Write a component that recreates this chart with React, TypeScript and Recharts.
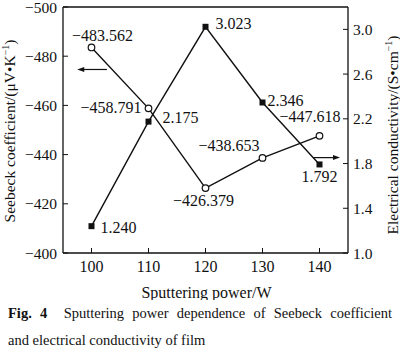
import React from "react";
import { LineChart, Line, XAxis, YAxis, ReferenceLine, Label } from "recharts";

const powers = [100, 110, 120, 130, 140];
const seebeck = [-483.562, -458.791, -426.379, -438.653, -447.618];
const conductivity = [1.24, 2.175, 3.023, 2.346, 1.792];
const powerTicks = [100, 110, 120, 130, 140];
const seebeckTicks = [-500, -480, -460, -440, -420, -400];
const conductivityTicks = [1.0, 1.4, 1.8, 2.2, 2.6, 3.0];

const data = powers.map((p, i) => ({ power: p, seebeck: seebeck[i], cond: conductivity[i] }));

// label placement (layout, not data)
const seebeckLabelLayout = [
  { dx: 11, dy: -12, anchor: "middle" },
  { dx: -7, dy: -1, anchor: "end" },
  { dx: -2, dy: 12, anchor: "middle" },
  { dx: -3, dy: -12, anchor: "end" },
  { dx: 21, dy: -19, anchor: "end" },
];
const condLabelLayout = [
  { dx: 9, dy: 1, anchor: "start" },
  { dx: 14, dy: -4, anchor: "start" },
  { dx: 10, dy: -3, anchor: "start" },
  { dx: 5, dy: -2, anchor: "start" },
  { dx: 0, dy: 12, anchor: "middle" },
];

const FONT = "Liberation Serif, serif";
const INK = "#111";

const fmtMinus = (v: number, d: number) => {
  const s = Math.abs(v).toFixed(d);
  return v < 0 ? "\u2212" + s : s;
};

const makeLabel = (layout: any[]) => (props: any) => {
  const { x, y, index, value } = props;
  const l = layout[index];
  if (!l) return null;
  return (
    <text
      x={x + l.dx}
      y={y + l.dy}
      textAnchor={l.anchor}
      dominantBaseline="central"
      style={{ fontFamily: FONT }}
      fontSize={16}
      fill={INK}
    >
      {fmtMinus(value, 3)}
    </text>
  );
};

const SquareDot = (p: any) => (
  <rect key={"sq" + p.index} x={p.cx - 3} y={p.cy - 3} width={6} height={6} fill={INK} />
);
const CircleDot = (p: any) => (
  <circle key={"ci" + p.index} cx={p.cx} cy={p.cy} r={3.3} fill="#fff" stroke={INK} strokeWidth={1.2} />
);

const arrowShape = (dir: "left" | "right") => (p: any) => {
  const { x1, y1, x2, y2 } = p;
  const tipX = dir === "left" ? Math.min(x1, x2) : Math.max(x1, x2);
  const tailX = dir === "left" ? Math.max(x1, x2) : Math.min(x1, x2);
  const s = dir === "left" ? 1 : -1;
  return (
    <g>
      <line x1={tailX} y1={y1} x2={tipX + s * 4} y2={y2} stroke={INK} strokeWidth={1.2} />
      <polygon
        points={`${tipX},${y1} ${tipX + s * 7},${y1 - 2.5} ${tipX + s * 7},${y1 + 2.5}`}
        fill={INK}
      />
    </g>
  );
};

const leftArrow = { y: -474.6, from: 102.7, to: 97.5 };
const rightArrow = { y: 1.853, from: 138.9, to: 143.6 };

const XTitle = (props: any) => {
  const vb = props.viewBox;
  return (
    <text x={vb.x + vb.width / 2 + 1} y={vb.y + 39} textAnchor="middle" dominantBaseline="central" style={{ fontFamily: FONT }} fontSize={16} fill={INK}>
      Sputtering power/W
    </text>
  );
};

const LeftTitle = (props: any) => {
  const vb = props.viewBox;
  const cx = 9;
  const cy = vb.y + vb.height / 2 + 1;
  return (
    <text x={cx} y={cy} transform={`rotate(-90 ${cx} ${cy})`} textAnchor="middle" dominantBaseline="central" style={{ fontFamily: FONT }} fontSize={15.5} fill={INK}>
      Seebeck coefficient/(μV•K
      <tspan dy={-4} fontSize={10}>−1</tspan>
      <tspan dy={4}>)</tspan>
    </text>
  );
};

const RightTitle = (props: any) => {
  const vb = props.viewBox;
  const cx = 392;
  const cy = vb.y + vb.height / 2 + 5;
  return (
    <text x={cx} y={cy} transform={`rotate(-90 ${cx} ${cy})`} textAnchor="middle" dominantBaseline="central" style={{ fontFamily: FONT }} fontSize={15.5} fill={INK}>
      Electrical conductivity/(S•cm
      <tspan dy={-4} fontSize={10}>−1</tspan>
      <tspan dy={4}>)</tspan>
    </text>
  );
};

const tickStyle = { fontFamily: FONT, fontSize: 15.5, fill: INK };
const xTickStyle = { fontFamily: FONT, fontSize: 16, fill: INK };
const axisLine = { stroke: INK, strokeWidth: 1.3 };

export default function App() {
  return (
    <div style={{ position: "absolute", left: 0, top: 0, width: 400, height: 351, background: "#fff" }}>
      <LineChart width={400} height={300} data={data} margin={{ top: 7, right: 0, bottom: 0, left: 0 }}>
        <XAxis
          dataKey="power"
          type="number"
          domain={[95, 145]}
          ticks={powerTicks}
          interval={0}
          height={47}
          tick={xTickStyle}
          tickSize={-5}
          tickMargin={13}
          axisLine={axisLine}
          tickLine={{ stroke: INK, strokeWidth: 1 }}
        >
          <Label content={XTitle} />
        </XAxis>
        <YAxis
          yAxisId="left"
          orientation="left"
          width={63}
          reversed
          domain={[-500, -400]}
          ticks={seebeckTicks}
          interval={0}
          tickFormatter={(v: number) => fmtMinus(v, 0)}
          tick={tickStyle}
          tickSize={-5}
          tickMargin={11}
          axisLine={axisLine}
          tickLine={{ stroke: INK, strokeWidth: 1 }}
        >
          <Label content={LeftTitle} />
        </YAxis>
        <YAxis
          yAxisId="right"
          orientation="right"
          width={52}
          domain={[1.0, 3.2]}
          ticks={conductivityTicks}
          interval={0}
          tickFormatter={(v: number) => v.toFixed(1)}
          tick={tickStyle}
          tickSize={-5}
          tickMargin={10}
          axisLine={axisLine}
          tickLine={{ stroke: INK, strokeWidth: 1 }}
        >
          <Label content={RightTitle} />
        </YAxis>
        <ReferenceLine yAxisId="left" y={-500} stroke={INK} strokeWidth={1.3} />
        <ReferenceLine
          yAxisId="left"
          segment={[
            { x: leftArrow.from, y: leftArrow.y },
            { x: leftArrow.to, y: leftArrow.y },
          ]}
          shape={arrowShape("left")}
        />
        <ReferenceLine
          yAxisId="right"
          segment={[
            { x: rightArrow.from, y: rightArrow.y },
            { x: rightArrow.to, y: rightArrow.y },
          ]}
          shape={arrowShape("right")}
        />
        <Line
          yAxisId="right"
          dataKey="cond"
          stroke={INK}
          strokeWidth={1.4}
          dot={SquareDot}
          activeDot={false}
          label={makeLabel(condLabelLayout)}
          isAnimationActive={false}
        />
        <Line
          yAxisId="left"
          dataKey="seebeck"
          stroke={INK}
          strokeWidth={1.4}
          dot={CircleDot}
          activeDot={false}
          label={makeLabel(seebeckLabelLayout)}
          isAnimationActive={false}
        />
      </LineChart>
      <div
        style={{
          position: "absolute",
          left: 8,
          top: 300,
          width: 384,
          fontFamily: FONT,
          fontSize: 14.5,
          lineHeight: "27px",
          color: INK,
          textAlign: "justify",
          textAlignLast: "justify",
          whiteSpace: "nowrap",
        }}
      >
        <b>Fig. 4</b>&nbsp; Sputtering power dependence of Seebeck coefficient
      </div>
      <div
        style={{
          position: "absolute",
          left: 8,
          top: 327,
          fontFamily: FONT,
          fontSize: 14.5,
          lineHeight: "27px",
          color: INK,
          whiteSpace: "nowrap",
        }}
      >
        and electrical conductivity of film
      </div>
    </div>
  );
}
